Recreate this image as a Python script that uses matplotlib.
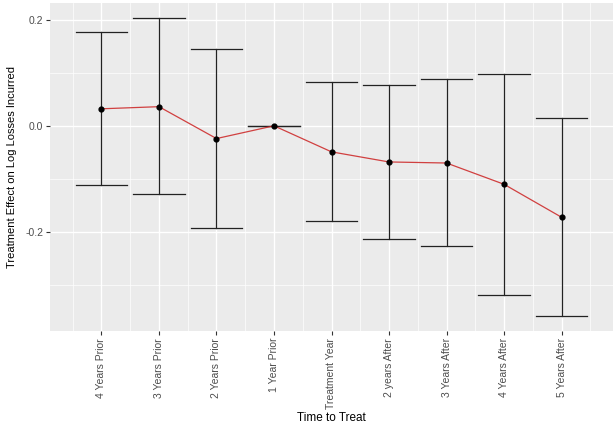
import numpy as np
import matplotlib
matplotlib.use("Agg")
import matplotlib.pyplot as plt
from matplotlib.ticker import FixedLocator

# ==============================
# DATA
# ==============================

periods = ["4 Years Prior", "3 Years Prior", "2 Years Prior", "1 Year Prior",
           "Treatment Year", "2 years After", "3 Years After", "4 Years After",
           "5 Years After"]
estimate = [0.032, 0.036, -0.024, 0.0, -0.049, -0.068, -0.070, -0.110, -0.172]
ci_upper = [0.177, 0.203, 0.144, 0.0, 0.083, 0.077, 0.089, 0.097, 0.014]
ci_lower = [-0.112, -0.129, -0.192, 0.0, -0.180, -0.213, -0.227, -0.319, -0.358]

y_ticks = [-0.2, 0.0, 0.2]
y_minor = [-0.3, -0.1, 0.1]

CAP_WIDTH = 0.9

# ==============================
# PLOT
# ==============================

plt.rcParams["font.family"] = ["Liberation Sans", "DejaVu Sans"]

fig = plt.figure(figsize=(6.15, 4.23), dpi=100)
ax = fig.add_axes([50 / 615, 92 / 423, 563 / 615, 328 / 423])
ax.set_facecolor("#EBEBEB")

x = np.arange(1, len(periods) + 1)

# error bars: vertical whisker + horizontal caps
for xi, lo, hi in zip(x, ci_lower, ci_upper):
    ax.plot([xi, xi], [lo, hi], color="#222222", lw=0.9, zorder=3)
    ax.plot([xi - CAP_WIDTH / 2, xi + CAP_WIDTH / 2], [hi, hi], color="#222222", lw=0.9, zorder=3)
    ax.plot([xi - CAP_WIDTH / 2, xi + CAP_WIDTH / 2], [lo, lo], color="#222222", lw=0.9, zorder=3)

ax.plot(x, estimate, color="#cc2222", lw=0.9, alpha=0.85, zorder=4)
ax.scatter(x, estimate, s=12, color="black", zorder=5)

# axes limits like ggplot's 5% expansion
lo_x, hi_x = 1 - CAP_WIDTH / 2, len(periods) + CAP_WIDTH / 2
pad_x = 0.05 * (hi_x - lo_x)
ax.set_xlim(lo_x - pad_x, hi_x + pad_x)
lo_y, hi_y = min(ci_lower), max(ci_upper)
pad_y = 0.05 * (hi_y - lo_y)
ax.set_ylim(lo_y - pad_y, hi_y + pad_y)

ax.set_xticks(x)
ax.set_xticklabels(periods, rotation=90)
ax.xaxis.set_minor_locator(FixedLocator(np.arange(0.5, len(periods) + 1, 1.0)))
ax.set_yticks(y_ticks)
ax.set_yticklabels(["-0.2", "0.0", "0.2"])
ax.yaxis.set_minor_locator(FixedLocator(y_minor))

ax.grid(which="major", color="white", lw=1.0)
ax.grid(which="minor", color="white", lw=0.5)
ax.set_axisbelow(True)

for spine in ax.spines.values():
    spine.set_visible(False)

ax.tick_params(which="major", length=3, width=0.8, color="#333333",
               labelsize=7.5, labelcolor="#4D4D4D", pad=2)
ax.tick_params(which="minor", length=0)

ax.set_xlabel("Time to Treat", fontsize=8.5, color="black", labelpad=2)
ax.set_ylabel("Treatment Effect on Log Losses Incurred", fontsize=8, color="black", labelpad=6)

fig.savefig("out.png", dpi=100, facecolor="white")
